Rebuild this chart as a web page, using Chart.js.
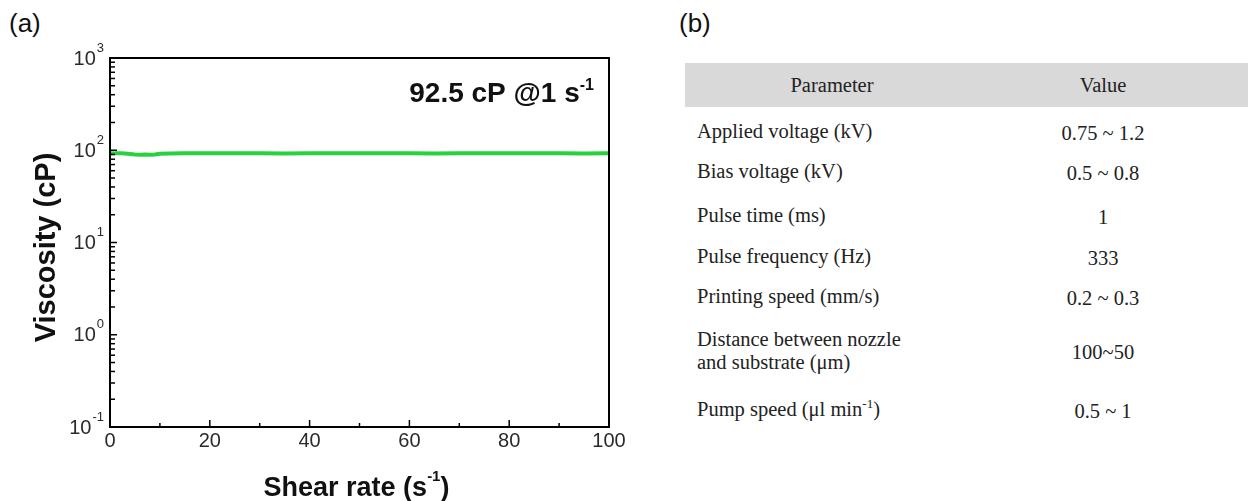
<!DOCTYPE html>
<html>
<head>
<meta charset="utf-8">
<script src="https://cdn.jsdelivr.net/npm/chart.js@4"></script>
<style>
  html, body { margin: 0; padding: 0; background: #fff; }
  body { width: 1248px; height: 501px; position: relative; overflow: hidden; font-family: "Liberation Sans", Arial, sans-serif; }
  #chartBox { position: absolute; left: 0; top: 0; width: 640px; height: 501px; }
  .panel { position: absolute; top: 8px; font-size: 26px; color: #111; }
  #tbl { position: absolute; left: 685px; top: 63px; width: 563px; font-family: "Liberation Serif", "Times New Roman", serif; font-size: 20.5px; color: #222; }
  #tbl .hd { position: absolute; left: 0; top: 0; width: 563px; height: 44px; background: #d9d9d9; }
  #tbl div.c { position: absolute; white-space: nowrap; line-height: 26px; }
</style>
</head>
<body>
<div class="panel" style="left:9px">(a)</div>
<div class="panel" style="left:679px">(b)</div>
<div id="chartBox"><canvas id="viscChart"></canvas></div>
<div id="tbl"></div>

<script>
// shear rate (s^-1)
const shearRate = [0, 1, 2, 3, 4, 5, 6, 7, 8, 9, 10, 12, 15, 20, 25, 30, 35, 40, 45, 50, 55, 60, 65, 70, 75, 80, 85, 90, 95, 100];
// viscosity (cP)
const viscosity = [93.0, 92.5, 92.7, 92.2, 91.2, 90.0, 89.6, 89.9, 89.5, 90.0, 91.8, 92.3, 92.5, 92.5, 92.6, 92.5, 92.4, 92.5, 92.5, 92.6, 92.5, 92.5, 92.4, 92.5, 92.5, 92.6, 92.5, 92.5, 92.4, 92.5];
const yTickPowers = [-1, 0, 1, 2, 3];
const xTickLabels = [0, 20, 40, 60, 80, 100];

// table (b)
const paramNames = ['Applied voltage (kV)', 'Bias voltage (kV)', 'Pulse time (ms)', 'Pulse frequency (Hz)',
  'Printing speed (mm/s)', 'Distance between nozzle\nand substrate (\u03bcm)', 'Pump speed (\u03bcl min<sup>-1</sup>)'];
const paramValues = ['0.75 ~ 1.2', '0.5 ~ 0.8', '1', '333', '0.2 ~ 0.3', '100~50', '0.5 ~ 1'];

(function buildTable() {
  const t = document.getElementById('tbl');
  const rowY = [57, 97, 141, 182, 222, 276, 335];
  let html = '<div class="hd"></div>';
  html += '<div class="c" style="left:147px;top:9px;transform:translateX(-50%)">Parameter</div>';
  html += '<div class="c" style="left:418px;top:9px;transform:translateX(-50%)">Value</div>';
  paramNames.forEach((p, i) => {
    const lines = p.split('\n');
    const top = rowY[i] - (lines.length - 1) * 11;
    html += '<div class="c" style="left:12px;top:' + top + 'px;line-height:23px">' +
      lines.join('<br>').replace('<sup>', '<sup style="font-size:13px;vertical-align:8px;line-height:0">') + '</div>';
    html += '<div class="c" style="left:418px;top:' + rowY[i] + 'px;transform:translateX(-50%)">' + paramValues[i] + '</div>';
  });
  t.innerHTML = html;
})();

const F = 'px "Liberation Sans", Arial, sans-serif';

const frame = {
  id: 'frame',
  afterDraw(chart) {
    const { ctx, chartArea: a, scales } = chart;
    const x = scales.x, y = scales.y;
    ctx.save();
    ctx.strokeStyle = '#000';
    ctx.lineWidth = 2;
    ctx.strokeRect(a.left, a.top, a.right - a.left, a.bottom - a.top);
    ctx.lineWidth = 1.5;
    // x ticks (inward)
    for (let v = 0; v <= 100; v += 10) {
      const px = x.getPixelForValue(v);
      const len = v % 20 === 0 ? 7 : 4;
      ctx.beginPath(); ctx.moveTo(px, a.bottom); ctx.lineTo(px, a.bottom - len); ctx.stroke();
    }
    // y ticks (inward, log minor)
    yTickPowers.forEach(p => {
      for (let m = 1; m <= 9; m++) {
        const val = m * Math.pow(10, p);
        if (val > 1000) break;
        const py = y.getPixelForValue(val);
        const len = m === 1 ? 7 : 5;
        ctx.beginPath(); ctx.moveTo(a.left, py); ctx.lineTo(a.left + len, py); ctx.stroke();
      }
    });
    // tick labels
    ctx.fillStyle = '#2a2a2a';
    ctx.font = '20' + F;
    ctx.textAlign = 'center'; ctx.textBaseline = 'top';
    xTickLabels.forEach(v => ctx.fillText(String(v), x.getPixelForValue(v), a.bottom + 4));
    yTickPowers.forEach(p => {
      const py = y.getPixelForValue(Math.pow(10, p));
      const sup = String(p);
      ctx.font = '13' + F;
      const sw = ctx.measureText(sup).width;
      ctx.textAlign = 'left'; ctx.textBaseline = 'middle';
      ctx.fillText(sup, a.left - 6 - sw, py - 10);
      ctx.font = '20' + F;
      ctx.textAlign = 'right';
      ctx.fillText('10', a.left - 7 - sw, py + 1);
    });
    // axis titles
    ctx.fillStyle = '#111';
    ctx.font = 'bold 29' + F;
    ctx.save();
    ctx.translate(47, (a.top + a.bottom) / 2 + 5);
    ctx.rotate(-Math.PI / 2);
    ctx.textAlign = 'center'; ctx.textBaseline = 'middle';
    ctx.fillText('Viscosity (cP)', 0, 0);
    ctx.restore();
    const t1 = 'Shear rate (s', t2 = ')';
    ctx.font = 'bold 27' + F;
    const w1 = ctx.measureText(t1).width, w2 = ctx.measureText(t2).width;
    ctx.font = 'bold 15' + F;
    const ws = ctx.measureText('-1').width;
    const sx = (a.left + a.right) / 2 - (w1 + ws + w2) / 2 - 3;
    const by = 496;
    ctx.textAlign = 'left'; ctx.textBaseline = 'alphabetic';
    ctx.font = 'bold 27' + F;
    ctx.fillText(t1, sx, by);
    ctx.font = 'bold 15' + F;
    ctx.fillText('-1', sx + w1, by - 15);
    ctx.font = 'bold 27' + F;
    ctx.fillText(t2, sx + w1 + ws, by);
    // annotation
    const n1 = '92.5 cP @1 s';
    ctx.font = 'bold 16' + F;
    const nw = ctx.measureText('-1').width;
    ctx.font = 'bold 28' + F;
    const n1w = ctx.measureText(n1).width;
    const ax = a.right - 15 - nw - n1w;
    ctx.fillText(n1, ax, 102);
    ctx.font = 'bold 16' + F;
    ctx.fillText('-1', ax + n1w, 90);
    ctx.restore();
  }
};

new Chart(document.getElementById('viscChart'), {
  type: 'line',
  data: {
    datasets: [{
      data: shearRate.map((s, i) => ({ x: s, y: viscosity[i] })),
      borderColor: '#27d13f',
      borderWidth: 4,
      pointRadius: 0,
      tension: 0,
      fill: false
    }]
  },
  options: {
    responsive: true,
    maintainAspectRatio: false,
    animation: false,
    layout: { padding: { left: 0, top: 58, right: 31, bottom: 0 } },
    plugins: { legend: { display: false }, tooltip: { enabled: false } },
    scales: {
      x: {
        type: 'linear', min: 0, max: 100,
        grid: { display: false }, border: { display: false },
        ticks: { display: false },
        afterFit(s) { s.height = 74; }
      },
      y: {
        type: 'logarithmic', min: 0.1, max: 1000,
        grid: { display: false }, border: { display: false },
        ticks: { display: false },
        afterFit(s) { s.width = 110; }
      }
    }
  },
  plugins: [frame]
});
</script>
</body>
</html>
